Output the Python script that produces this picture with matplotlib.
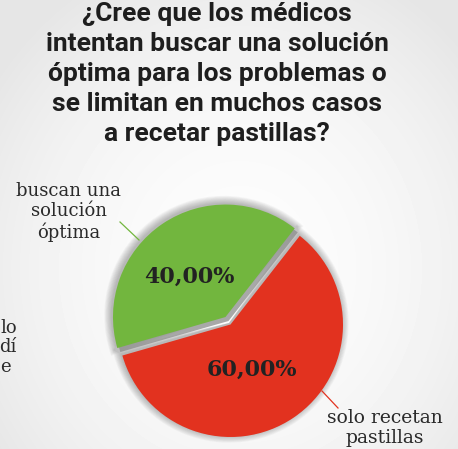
import matplotlib.pyplot as plt
import numpy as np
from matplotlib.patches import Wedge

W, H = 458, 449

title = ("¿Cree que los médicos\nintentan buscar una solución\n"
         "óptima para los problemas o\nse limitan en muchos casos\na recetar pastillas?")
categories = ["buscan una\nsolución\nóptima", "solo recetan\npastillas"]
values = [40.0, 60.0]
colors = ["#72b63e", "#e2321f"]

fig = plt.figure(figsize=(W / 100, H / 100), dpi=100)
ax = fig.add_axes([0, 0, 1, 1])

# soft background
yy, xx = np.mgrid[0:H, 0:W]
d = np.hypot((xx - 240) / 300, (yy - 180) / 330)
bg = 0.99 - 0.09 * np.clip(d, 0, 1) ** 2
ax.imshow(bg, cmap="gray", vmin=0, vmax=1, extent=(0, W, 0, H), origin="lower", zorder=0)

cx, cy, r = 230.5, H - 324.5, 112.5

# explode is in data units here (pixels)
wedges, texts, autotexts = ax.pie(
    values,
    colors=colors,
    startangle=52,
    counterclock=True,
    explode=[9, 0.0],
    center=(cx, cy),
    radius=r,
    autopct=lambda p: f"{p:.2f}".replace(".", ",") + "%",
    pctdistance=0.47,
    wedgeprops=dict(linewidth=0),
    textprops=dict(fontsize=16, fontweight="bold", family="DejaVu Serif", color="#222222"),
    frame=True,
)
ax.set_xlim(0, W)
ax.set_ylim(0, H)
ax.set_axis_off()
ax.set_aspect("equal")

# blurred shadows under each slice
for w in wedges:
    w.set_zorder(3)
    (wx, wy) = w.center
    for i in range(10):
        ax.add_patch(Wedge((wx - 1.5, wy + 1.5), w.r + 0.8 * i, w.theta1 - 0.4 * i,
                           w.theta2 + 0.4 * i, color="#4a4a4a", alpha=0.045, lw=0, zorder=2))
gx, gy = wedges[0].center
ax.add_patch(Wedge((gx + 3, gy - 4), r, wedges[0].theta1, wedges[0].theta2,
                   color="#8c8c8c", alpha=0.75, lw=0, zorder=2.5))

autotexts[0].set_position((189, H - 277))
autotexts[1].set_position((252, H - 370))
for t in autotexts:
    t.set_zorder(4)

ax.text(217, H - 2, title, ha="center", va="top", fontsize=19, fontweight="bold",
        family="Roboto", color="#1e1e1e", linespacing=1.31, zorder=5)

label_kw = dict(ha="center", va="center", fontsize=13, family="DejaVu Serif",
                color="#2a2a2a", linespacing=1.15, zorder=5)
ax.text(69, H - 212, categories[0], **label_kw)
ax.text(385, H - 428, categories[1], **dict(label_kw, fontsize=13.5))
ax.plot([120, 139], [H - 222, H - 240], color=colors[0], lw=0.9, zorder=5)
ax.plot([322, 338], [H - 391, H - 408], color=colors[1], lw=0.9, zorder=5)

# fragment of a neighbouring label at the left edge
for frag, fx, fy in [("lo", 17, 328), ("dí", 17, 347), ("e", 11, 367)]:
    ax.text(fx, H - fy, frag, ha="right", va="center", fontsize=13,
            family="DejaVu Serif", color="#2a2a2a", zorder=5)

fig.savefig("out.png", dpi=100)
